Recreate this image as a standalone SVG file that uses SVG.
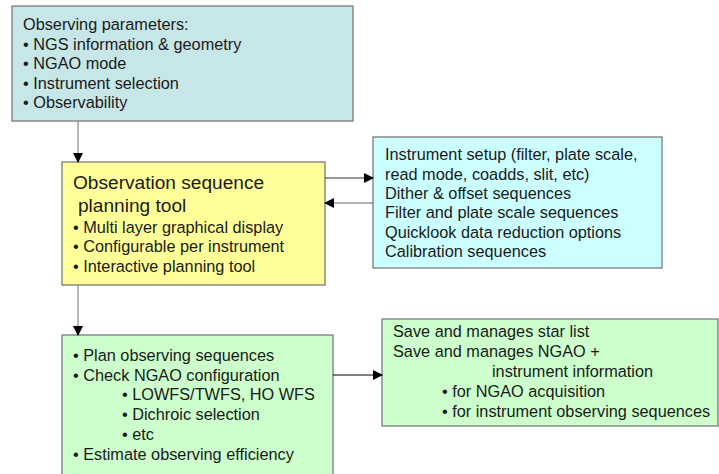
<svg xmlns="http://www.w3.org/2000/svg" width="719" height="474" viewBox="0 0 719 474">
<style>
.box{stroke:#7a7a7a;stroke-width:1.3}
.t{font-family:"Liberation Sans",Arial,sans-serif;font-size:16.3px;fill:#1a1a1a}
.big{font-size:19.1px}
.c{fill:none;stroke-width:1.2}
</style>
<defs>
<marker id="ah" markerWidth="10" markerHeight="10" refX="9" refY="5" orient="auto" markerUnits="userSpaceOnUse">
<path d="M0,0 L10,5 L0,10 Z" fill="#000"/>
</marker>
</defs>
<rect width="719" height="474" fill="#fff"/>
<g id="params">
<rect class="box" x="12" y="6" width="341" height="115" fill="#c6e6e8"/>
<text class="t" x="23" y="30">Observing parameters:</text>
<text class="t" x="23" y="50">• NGS information &amp; geometry</text>
<text class="t" x="23" y="69">• NGAO mode</text>
<text class="t" x="23" y="89">• Instrument selection</text>
<text class="t" x="23" y="108">• Observability</text>
</g>
<g id="planning">
<rect class="box" x="62" y="162" width="263" height="123" fill="#ffff99"/>
<text class="t big" x="73" y="189">Observation sequence</text>
<text class="t big" x="78" y="212">planning tool</text>
<text class="t" x="73" y="233">• Multi layer graphical display</text>
<text class="t" x="73" y="252">• Configurable per instrument</text>
<text class="t" x="73" y="272">• Interactive planning tool</text>
</g>
<g id="setup">
<rect class="box" x="373" y="137" width="289" height="131" fill="#ccffff"/>
<text class="t" x="385" y="160">Instrument setup (filter, plate scale,</text>
<text class="t" x="385" y="180">read mode, coadds, slit, etc)</text>
<text class="t" x="385" y="199">Dither &amp; offset sequences</text>
<text class="t" x="385" y="218">Filter and plate scale sequences</text>
<text class="t" x="385" y="238">Quicklook data reduction options</text>
<text class="t" x="385" y="257">Calibration sequences</text>
</g>
<g id="plan">
<rect class="box" x="62" y="335" width="271" height="150" fill="#ccffcc"/>
<text class="t" x="73" y="361">• Plan observing sequences</text>
<text class="t" x="73" y="381">• Check NGAO configuration</text>
<text class="t" x="122" y="400">• LOWFS/TWFS, HO WFS</text>
<text class="t" x="122" y="420">• Dichroic selection</text>
<text class="t" x="122" y="440">• etc</text>
<text class="t" x="73" y="460">• Estimate observing efficiency</text>
</g>
<g id="save">
<rect class="box" x="382" y="319" width="336" height="107" fill="#ccffcc"/>
<text class="t" x="393" y="337">Save and manages star list</text>
<text class="t" x="393" y="357">Save and manages NGAO +</text>
<text class="t" x="492" y="377">instrument information</text>
<text class="t" x="442" y="397">• for NGAO acquisition</text>
<text class="t" x="442" y="417">• for instrument observing sequences</text>
</g>
<g id="connectors">
<line class="c" x1="78" y1="121" x2="78" y2="162" stroke="#888" marker-end="url(#ah)"/>
<line class="c" x1="325" y1="178" x2="373" y2="178" stroke="#333" marker-end="url(#ah)"/>
<line class="c" x1="373" y1="203" x2="325" y2="203" stroke="#666" marker-end="url(#ah)"/>
<line class="c" x1="78" y1="285" x2="78" y2="335" stroke="#888" marker-end="url(#ah)"/>
<line class="c" x1="333" y1="375" x2="382" y2="375" stroke="#000" marker-end="url(#ah)"/>
</g>
</svg>
